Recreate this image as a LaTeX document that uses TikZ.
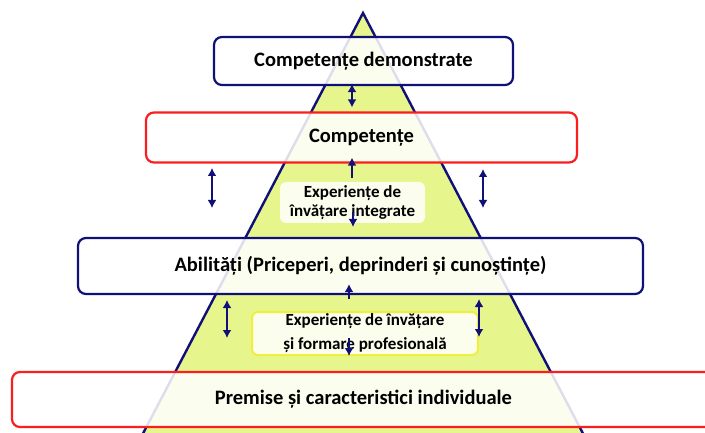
\documentclass[tikz,border=0pt]{standalone}
\usepackage{fontspec}
\setmainfont{Carlito}
\usetikzlibrary{arrows.meta,calc}
\definecolor{navy}{RGB}{16,16,120}
\definecolor{redline}{RGB}{250,30,30}
\definecolor{pyr}{RGB}{230,246,140}
\definecolor{ylw}{RGB}{240,240,60}
\tikzset{
  bigbox/.style={rounded corners=8pt, line width=2.2pt, fill=white, fill opacity=0.86, text opacity=1, inner sep=0pt, font=\bfseries\fontsize{20.5}{24}\selectfont},
  navybox/.style={bigbox, draw=navy},
  redbox/.style={bigbox, draw=redline},
  innerbox/.style={rounded corners=6pt, fill=white, fill opacity=0.85, text opacity=1, inner sep=0pt, align=center, font=\bfseries\fontsize{17}{19}\selectfont},
  arr/.style={draw=navy, line width=2pt, -{Latex[length=8pt,width=9pt]}},
  dbl/.style={draw=navy, line width=2pt, {Latex[length=8pt,width=9pt]}-{Latex[length=8pt,width=9pt]}}
}
\begin{document}
\begin{tikzpicture}[x=1pt,y=-1pt]
\useasboundingbox (0,0) rectangle (705,433);
\fill[white] (0,0) rectangle (705,433);
% pyramid
\filldraw[fill=pyr, draw=navy, line width=2.4pt, line join=miter] (363,13) -- (589,445) -- (137,445) -- cycle;
% boxes
\node[navybox, minimum width=299pt, minimum height=48pt] (b1) at (363.5,61) {Competențe demonstrate};
\node[redbox, minimum width=431pt, minimum height=50pt] (b2) at (361.5,137.5) {Competențe};
\node[navybox, minimum width=565pt, minimum height=56pt] (b3) at (360.5,266) {Abilități (Priceperi, deprinderi și cunoștințe)};
\node[redbox, minimum width=703pt, minimum height=55pt] (b4) at (363.5,399.5) {Premise și caracteristici individuale};
\node[innerbox, minimum width=145pt, minimum height=41pt] (i1) at (352.5,202.5) {Experiențe de\\învățare integrate};
\node[innerbox, draw=ylw, line width=2pt, minimum width=226pt, minimum height=43pt, font=\bfseries\fontsize{17}{24}\selectfont] (i2) at (365,333.5) {Experiențe de învățare\\și formare profesională};
% free-end coordinates
\coordinate (l1t) at (212,168); \coordinate (l1b) at (212,208);
\coordinate (r1t) at (483,169); \coordinate (r1b) at (483,208);
\coordinate (l2t) at (227,300); \coordinate (l2b) at (227,338);
\coordinate (r2t) at (479,299); \coordinate (r2b) at (479,337);
\coordinate (d1s) at (353,212); \coordinate (d1e) at (353,227);
\coordinate (d2s) at (349,338); \coordinate (d2e) at (349,356);
% connectors
\draw[dbl] ($(b1.south)+(-11.5,-2)$) -- ($(b2.north)+(-9.5,-4)$);
\draw[arr] ($(i1.north)+(-0.5,-4)$) -- ($(b2.south)+(-9.5,-6)$);
\draw[arr] (d1s) -- (d1e);
\draw[dbl] (l1t) -- (l1b);
\draw[dbl] (r1t) -- (r1b);
\draw[arr] ($(b3.south)+(-11.5,4)$) -- ($(b3.south)+(-11.5,-11)$);
\draw[dbl] (l2t) -- (l2b);
\draw[dbl] (r2t) -- (r2b);
\draw[arr] (d2s) -- (d2e);
\end{tikzpicture}
\end{document}
